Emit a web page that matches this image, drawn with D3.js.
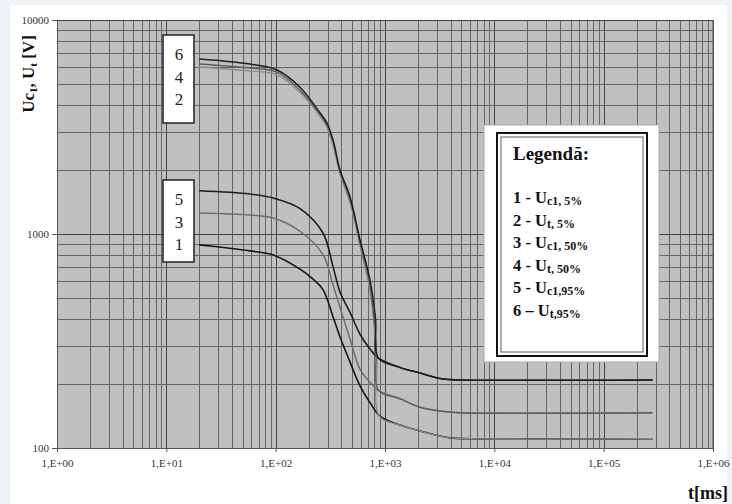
<!DOCTYPE html>
<html>
<head>
<meta charset="utf-8">
<script src="https://cdn.jsdelivr.net/npm/d3@7"></script>
<style>
  body { margin: 0; background: #eef4f6; }
  svg { display: block; }
</style>
</head>
<body>
<div id="chart"></div>
<script>
// values: [t in ms, voltage in V]
var uc1_5 = [[20,890],[35,862],[58,834],[95,798],[167,685],[220,615],[271,550],[335,410],[388,330],[479,252],[591,195],[729,163],[900,141],[1371,128],[2090,120],[3936,111.5],[6000,110.5],[280000,110.5]];
var ut_5 = [[20,6030],[58,5775],[103,5540],[167,4600],[255,3550],[295,3150],[335,2600],[388,1900],[479,1400],[591,880],[729,540],[840,260],[885,141],[1371,128],[2090,120],[3936,111.5],[6000,110.5],[280000,110.5]];
var uc1_50 = [[20,1253],[58,1227],[95,1188],[167,1030],[271,800],[335,578],[413,409],[479,323],[591,233],[729,203],[900,184],[1371,170],[2090,155],[3936,147],[5000,146],[280000,146]];
var ut_50 = [[20,6230],[58,5965],[103,5710],[167,4700],[255,3620],[295,3230],[335,2680],[388,1950],[479,1450],[591,910],[729,575],[830,310],[875,186],[1371,170],[2090,155],[3936,147],[5000,146],[280000,146]];
var uc1_95 = [[20,1592],[58,1538],[95,1472],[167,1315],[271,1011],[335,702],[388,535],[479,430],[591,340],[729,290],[870,263],[1371,238],[2090,224],[3400,210],[5000,208],[280000,208]];
var ut_95 = [[20,6580],[58,6230],[103,5840],[167,4850],[255,3675],[295,3300],[335,2750],[388,1990],[479,1490],[591,937],[729,610],[820,400],[870,263],[1371,238],[2090,224],[3400,210],[5000,208],[280000,208]];

var curves = [
  { data: uc1_5, color: '#151515', width: 1.6 },
  { data: uc1_50, color: '#6e6e6e', width: 1.5 },
  { data: uc1_95, color: '#1c1c1c', width: 1.6 },
  { data: ut_5, color: '#8a8a8a', width: 1.3 },
  { data: ut_50, color: '#5e5e5e', width: 1.3 },
  { data: ut_95, color: '#202020', width: 1.5 }
];

var xTicks = [1, 10, 100, 1000, 10000, 100000, 1000000];
var yTicks = [100, 1000, 10000];
var legendNum = ['1 - U', '2 - U', '3 - U', '4 - U', '5 - U', '6 \u2013 U'];
var legendSub = ['c1, 5%', 't, 5%', 'c1, 50%', 't, 50%', 'c1,95%', 't,95%'];
var boxTop = ['6', '4', '2'];
var boxBottom = ['5', '3', '1'];

var W = 732, H = 504;
var margin = { left: 57, right: 19, top: 20, bottom: 56 };

var svg = d3.select('#chart').append('svg')
    .attr('width', W)
    .attr('height', H);

// white card
svg.append('rect')
    .attr('x', 10).attr('y', 5)
    .attr('width', 717).attr('height', H - 5)
    .attr('fill', '#fff');

var x = d3.scaleLog().domain([1, 1e6]).range([margin.left, W - margin.right]);
var y = d3.scaleLog().domain([100, 10000]).range([H - margin.bottom, margin.top]);

var serif = '"Liberation Serif", "Times New Roman", serif';

// plot background
svg.append('rect')
    .attr('x', x(1)).attr('y', y(10000))
    .attr('width', x(1e6) - x(1)).attr('height', y(100) - y(10000))
    .attr('fill', '#c0c0c0');

// grid lines (log minor + major)
var xGrid = [], yGrid = [];
for (var e = 0; e < 6; e++) {
  for (var k = 1; k < 10; k++) xGrid.push(k * Math.pow(10, e));
}
xGrid.push(1e6);
for (var e2 = 2; e2 < 4; e2++) {
  for (var k2 = 1; k2 < 10; k2++) yGrid.push(k2 * Math.pow(10, e2));
}
yGrid.push(10000);

var grid = svg.append('g');
grid.selectAll('line.v').data(xGrid).enter().append('line')
    .attr('class', 'v')
    .attr('x1', function(d) { return Math.round(x(d)) + 0.5; })
    .attr('x2', function(d) { return Math.round(x(d)) + 0.5; })
    .attr('y1', y(10000)).attr('y2', y(100))
    .attr('stroke', function(d) { return xTicks.indexOf(d) >= 0 ? '#444' : '#666'; })
    .attr('stroke-width', 1);
grid.selectAll('line.h').data(yGrid).enter().append('line')
    .attr('class', 'h')
    .attr('y1', function(d) { return Math.round(y(d)) + 0.5; })
    .attr('y2', function(d) { return Math.round(y(d)) + 0.5; })
    .attr('x1', x(1)).attr('x2', x(1e6))
    .attr('stroke', function(d) { return yTicks.indexOf(d) >= 0 ? '#444' : '#666'; })
    .attr('stroke-width', 1);

// axes
var xAxis = d3.axisBottom(x)
    .tickValues(xTicks)
    .tickSize(4)
    .tickFormat(function(d) {
      var p = Math.round(Math.log10(d));
      return '1,E+' + (p < 10 ? '0' : '') + p;
    });
var gx = svg.append('g')
    .attr('transform', 'translate(0,' + y(100) + ')')
    .call(xAxis);
gx.select('.domain').attr('stroke', '#555');
gx.selectAll('.tick line').attr('stroke', '#555');
gx.selectAll('text')
    .attr('font-family', serif).attr('font-size', 11)
    .attr('fill', '#333').attr('dy', '1.1em');

var yAxis = d3.axisLeft(y)
    .tickValues(yTicks)
    .tickSize(5)
    .tickFormat(d3.format('d'));
var gy = svg.append('g')
    .attr('transform', 'translate(' + x(1) + ',0)')
    .call(yAxis);
gy.select('.domain').attr('stroke', '#555');
gy.selectAll('.tick line').attr('stroke', '#555');
gy.selectAll('text')
    .attr('font-family', serif).attr('font-size', 11)
    .attr('fill', '#333');

// right border
svg.append('line')
    .attr('x1', x(1e6)).attr('x2', x(1e6))
    .attr('y1', y(10000)).attr('y2', y(100))
    .attr('stroke', '#555');

// curves
var line = d3.line()
    .x(function(d) { return x(d[0]); })
    .y(function(d) { return y(d[1]); })
    .curve(d3.curveCatmullRom.alpha(0.5));

svg.append('g').selectAll('path').data(curves).enter().append('path')
    .attr('d', function(d) { return line(d.data); })
    .attr('fill', 'none')
    .attr('stroke', function(d) { return d.color; })
    .attr('stroke-width', function(d) { return d.width; });

// curve number boxes
function numberBox(labels, bx, by, bh) {
  var g = svg.append('g');
  g.append('rect')
      .attr('x', bx).attr('y', by)
      .attr('width', 31).attr('height', bh)
      .attr('fill', '#fff')
      .attr('stroke', '#222').attr('stroke-width', 1.5);
  g.selectAll('text').data(labels).enter().append('text')
      .attr('x', bx + 16)
      .attr('y', function(d, i) { return by + 25 + i * 22.5; })
      .attr('text-anchor', 'middle')
      .attr('font-family', serif)
      .attr('font-size', 17)
      .attr('fill', '#222')
      .text(function(d) { return d; });
}
numberBox(boxTop, 163, 35, 88);
numberBox(boxBottom, 163, 180, 82);

// legend
var lg = svg.append('g');
lg.append('rect')
    .attr('x', 484).attr('y', 125)
    .attr('width', 175).attr('height', 237)
    .attr('fill', '#fff')
    .attr('stroke', '#aaa').attr('stroke-width', 1);
lg.append('rect')
    .attr('x', 497).attr('y', 133)
    .attr('width', 150).attr('height', 223)
    .attr('fill', 'none')
    .attr('stroke', '#111').attr('stroke-width', 2);
lg.append('rect')
    .attr('x', 501).attr('y', 137)
    .attr('width', 142).attr('height', 215)
    .attr('fill', 'none')
    .attr('stroke', '#333').attr('stroke-width', 0.8);
lg.append('text')
    .attr('x', 513).attr('y', 160)
    .attr('font-family', serif)
    .attr('font-size', 19)
    .attr('font-weight', 'bold')
    .attr('fill', '#111')
    .text('Legendă:');
var items = lg.selectAll('text.item').data(legendNum).enter().append('text')
    .attr('class', 'item')
    .attr('x', 513)
    .attr('y', function(d, i) { return 203 + i * 22.5; })
    .attr('font-family', serif)
    .attr('font-size', 16.5)
    .attr('font-weight', 'bold')
    .attr('fill', '#111');
items.append('tspan').text(function(d) { return d; });
items.append('tspan')
    .attr('font-size', 12)
    .attr('dy', 2)
    .text(function(d, i) { return legendSub[i]; });

// axis titles
var yt = svg.append('text')
    .attr('transform', 'translate(34,74) rotate(-90)')
    .attr('text-anchor', 'middle')
    .attr('font-family', serif)
    .attr('font-size', 17)
    .attr('font-weight', 'bold')
    .attr('fill', '#111');
yt.append('tspan').text('Uc');
yt.append('tspan').attr('font-size', 11).attr('dy', 3).text('1');
yt.append('tspan').attr('dy', -3).text(', U');
yt.append('tspan').attr('font-size', 11).attr('dy', 3).text('t');
yt.append('tspan').attr('dy', -3).text(' [V]');

svg.append('text')
    .attr('x', 728).attr('y', 499)
    .attr('text-anchor', 'end')
    .attr('font-family', serif)
    .attr('font-size', 18)
    .attr('font-weight', 'bold')
    .attr('fill', '#111')
    .text('t[ms]');
</script>
</body>
</html>
